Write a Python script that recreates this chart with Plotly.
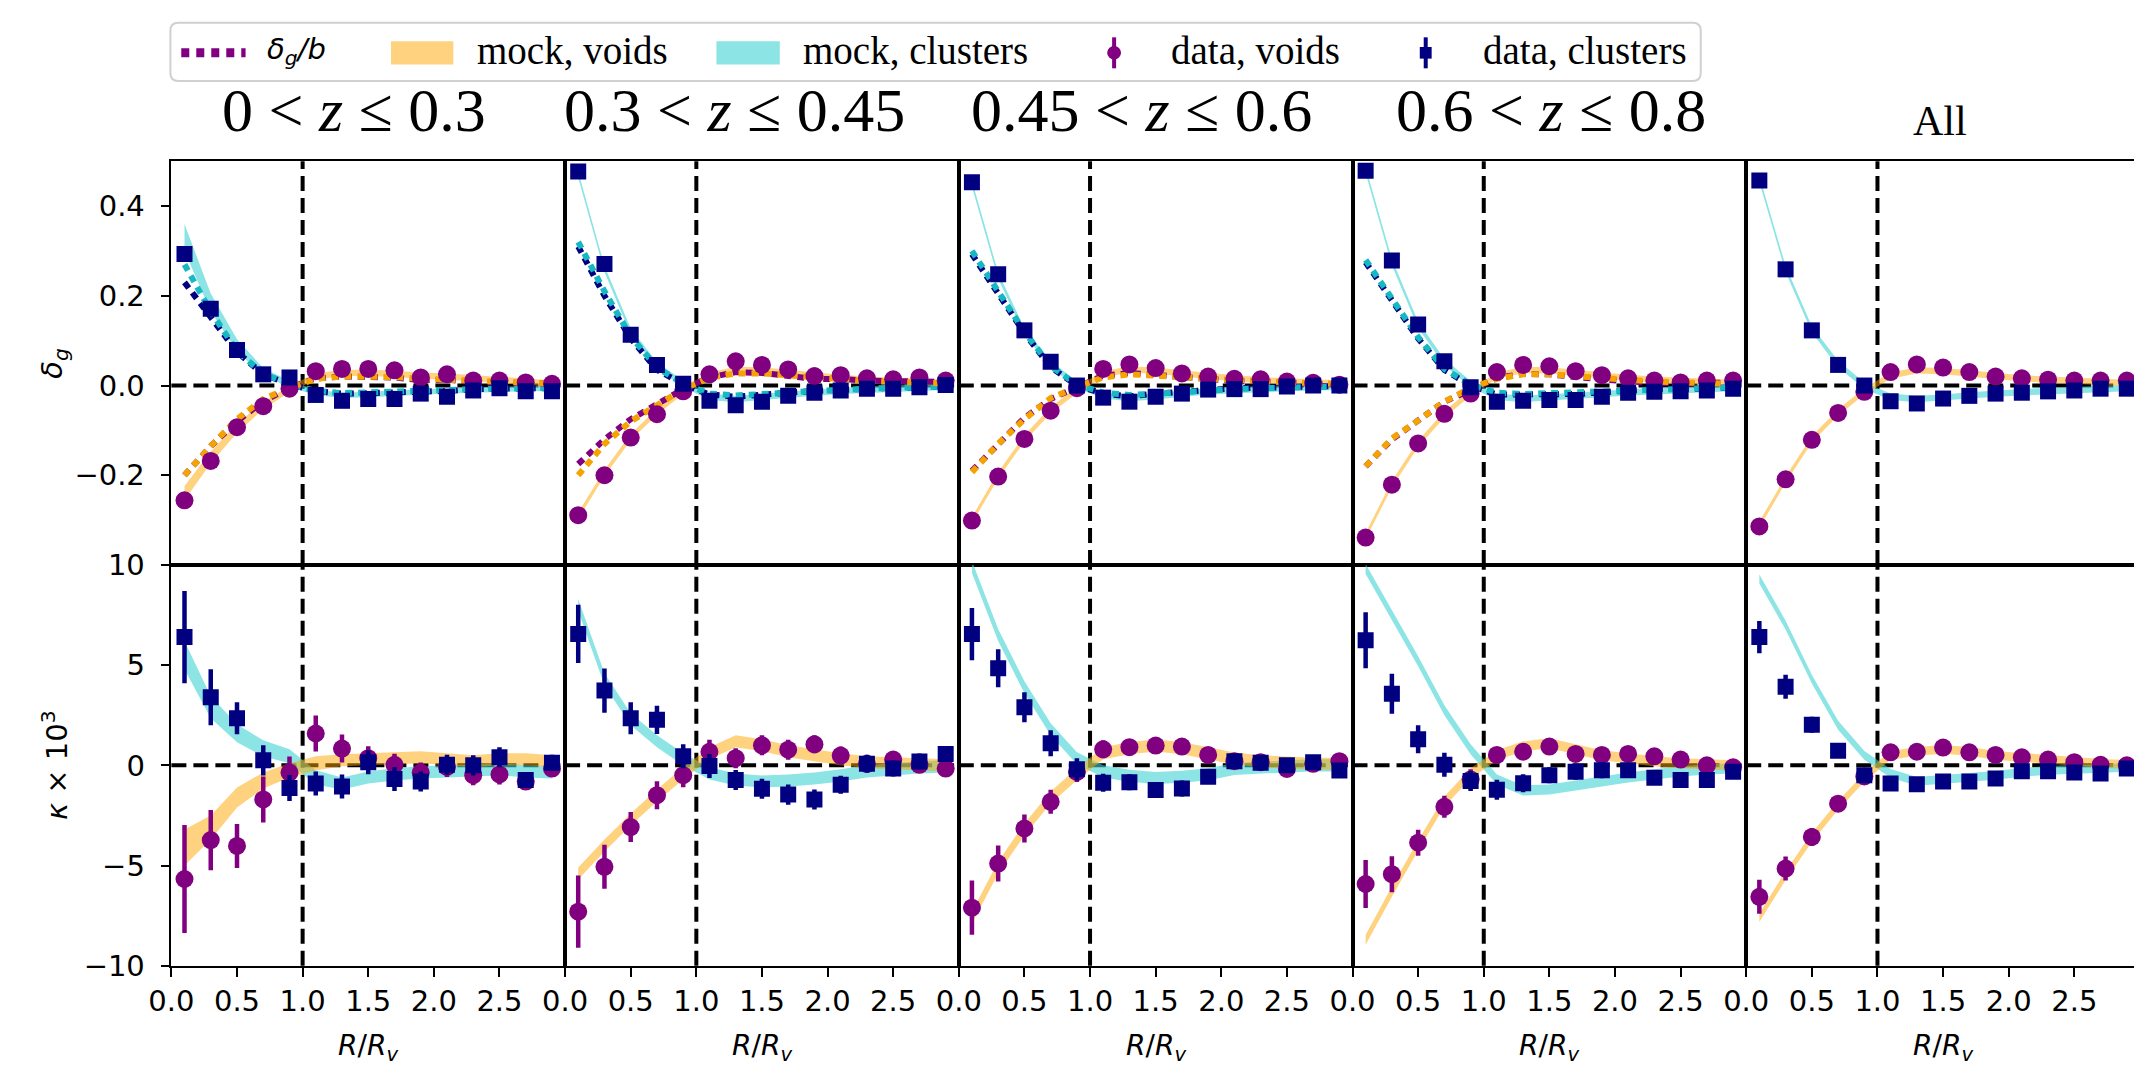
import plotly.graph_objects as go
from plotly.subplots import make_subplots

# ---------------- data ----------------
R = [0.1, 0.3, 0.5, 0.7, 0.9, 1.1, 1.3, 1.5, 1.7, 1.9, 2.1, 2.3, 2.5, 2.7, 2.9]

panel_titles = ["0 < <i>z</i> ≤ 0.3", "0.3 < <i>z</i> ≤ 0.45", "0.45 < <i>z</i> ≤ 0.6",
                "0.6 < <i>z</i> ≤ 0.8", "All"]

x_tickvals = [0.0, 0.5, 1.0, 1.5, 2.0, 2.5]
x_ticktext = ["0.0", "0.5", "1.0", "1.5", "2.0", "2.5"]
dg_tickvals = [-0.2, 0.0, 0.2, 0.4]
dg_ticktext = ["\u22120.2", "0.0", "0.2", "0.4"]
k_tickvals = [-10, -5, 0, 5, 10]
k_ticktext = ["\u221210", "\u22125", "0", "5", "10"]

# delta_g : data, clusters
dg_data_clusters = [
    [0.293, 0.171, 0.079, 0.025, 0.018, -0.021, -0.034, -0.030, -0.030, -0.018, -0.025, -0.011, -0.006, -0.013, -0.013],
    [0.477, 0.271, 0.113, 0.046, 0.004, -0.034, -0.044, -0.036, -0.023, -0.016, -0.011, -0.007, -0.007, -0.004, 0.001],
    [0.453, 0.248, 0.123, 0.053, 0.000, -0.027, -0.036, -0.025, -0.018, -0.009, -0.008, -0.008, -0.002, 0.000, 0.000],
    [0.479, 0.279, 0.136, 0.054, -0.004, -0.036, -0.034, -0.032, -0.032, -0.025, -0.016, -0.014, -0.013, -0.011, -0.007],
    [0.457, 0.259, 0.123, 0.046, 0.000, -0.035, -0.040, -0.029, -0.023, -0.018, -0.016, -0.013, -0.011, -0.007, -0.007],
]
# delta_g : data, voids
dg_data_voids = [
    [-0.256, -0.168, -0.093, -0.046, -0.007, 0.032, 0.037, 0.037, 0.034, 0.018, 0.025, 0.011, 0.011, 0.007, 0.004],
    [-0.289, -0.200, -0.116, -0.064, -0.013, 0.025, 0.054, 0.046, 0.036, 0.021, 0.023, 0.016, 0.014, 0.018, 0.011],
    [-0.301, -0.203, -0.119, -0.056, -0.006, 0.037, 0.047, 0.039, 0.027, 0.020, 0.015, 0.014, 0.009, 0.006, 0.002],
    [-0.339, -0.221, -0.129, -0.063, -0.018, 0.030, 0.046, 0.043, 0.032, 0.023, 0.016, 0.011, 0.007, 0.011, 0.011],
    [-0.314, -0.209, -0.121, -0.061, -0.014, 0.030, 0.047, 0.040, 0.030, 0.020, 0.016, 0.013, 0.011, 0.011, 0.011],
]
dg_data_err = [0.014, 0.010, 0.008, 0.006, 0.005, 0.005, 0.004, 0.004, 0.004, 0.004, 0.004, 0.004, 0.004, 0.004, 0.004]

# delta_g : mock bands (centre, half width)
dg_mock_clusters = [
    [0.330, 0.185, 0.090, 0.030, 0.003, -0.015, -0.022, -0.020, -0.018, -0.015, -0.012, -0.010, -0.008, -0.007, -0.006],
    [0.470, 0.260, 0.120, 0.045, 0.004, -0.025, -0.030, -0.026, -0.021, -0.016, -0.012, -0.009, -0.007, -0.005, -0.003],
    [0.450, 0.245, 0.120, 0.048, 0.002, -0.022, -0.028, -0.024, -0.018, -0.013, -0.010, -0.008, -0.006, -0.004, -0.003],
    [0.480, 0.275, 0.135, 0.052, 0.003, -0.025, -0.030, -0.027, -0.023, -0.019, -0.015, -0.012, -0.010, -0.008, -0.006],
    [0.460, 0.260, 0.125, 0.048, 0.000, -0.025, -0.030, -0.027, -0.022, -0.018, -0.015, -0.012, -0.010, -0.008, -0.006],
]
dg_mock_voids = [
    [-0.240, -0.160, -0.095, -0.045, -0.008, 0.020, 0.028, 0.028, 0.026, 0.022, 0.020, 0.016, 0.012, 0.008, 0.005],
    [-0.290, -0.195, -0.115, -0.058, -0.012, 0.022, 0.035, 0.034, 0.028, 0.022, 0.017, 0.013, 0.010, 0.008, 0.006],
    [-0.300, -0.200, -0.118, -0.055, -0.010, 0.025, 0.036, 0.033, 0.027, 0.021, 0.016, 0.012, 0.009, 0.007, 0.005],
    [-0.335, -0.220, -0.130, -0.064, -0.016, 0.022, 0.035, 0.034, 0.028, 0.022, 0.017, 0.013, 0.010, 0.008, 0.006],
    [-0.310, -0.210, -0.120, -0.060, -0.013, 0.022, 0.034, 0.032, 0.027, 0.021, 0.016, 0.013, 0.010, 0.008, 0.006],
]
dg_mock_clusters_hw = [
    [0.030, 0.020, 0.013, 0.009, 0.007, 0.006, 0.006, 0.006, 0.006, 0.006, 0.006, 0.006, 0.006, 0.006, 0.006],
    [0.007] * 15, [0.007] * 15, [0.007] * 15, [0.007] * 15,
]
dg_mock_voids_hw = [
    [0.016, 0.013, 0.010, 0.008, 0.007, 0.007, 0.007, 0.007, 0.007, 0.007, 0.007, 0.007, 0.007, 0.007, 0.007],
    [0.007] * 15, [0.007] * 15, [0.007] * 15, [0.007] * 15,
]

# delta_g / b  (first four panels only)
dgb_data_clusters = [
    [0.230, 0.155, 0.075, 0.025, 0.003, -0.012, -0.018, -0.017, -0.016, -0.012, -0.012, -0.008, -0.006, -0.006, -0.006],
    [0.310, 0.200, 0.105, 0.035, 0.003, -0.020, -0.025, -0.022, -0.016, -0.012, -0.009, -0.006, -0.005, -0.004, -0.002],
    [0.293, 0.205, 0.117, 0.041, 0.000, -0.018, -0.024, -0.018, -0.013, -0.008, -0.006, -0.005, -0.003, -0.002, -0.001],
    [0.275, 0.190, 0.105, 0.035, 0.000, -0.020, -0.020, -0.019, -0.019, -0.015, -0.010, -0.008, -0.008, -0.007, -0.004],
]
dgb_mock_clusters = [
    [0.270, 0.165, 0.077, 0.026, 0.003, -0.012, -0.017, -0.016, -0.014, -0.011, -0.010, -0.008, -0.006, -0.005, -0.005],
    [0.320, 0.210, 0.110, 0.040, 0.004, -0.018, -0.022, -0.020, -0.016, -0.012, -0.009, -0.007, -0.005, -0.004, -0.002],
    [0.300, 0.210, 0.120, 0.043, 0.002, -0.016, -0.021, -0.018, -0.014, -0.010, -0.008, -0.006, -0.004, -0.003, -0.002],
    [0.280, 0.195, 0.108, 0.037, 0.002, -0.016, -0.019, -0.017, -0.015, -0.012, -0.009, -0.007, -0.006, -0.005, -0.004],
]
dgb_data_voids = [
    [-0.200, -0.135, -0.080, -0.035, -0.005, 0.016, 0.020, 0.020, 0.018, 0.012, 0.013, 0.008, 0.006, 0.005, 0.004],
    [-0.175, -0.120, -0.075, -0.040, -0.008, 0.018, 0.030, 0.028, 0.022, 0.015, 0.014, 0.010, 0.009, 0.010, 0.007],
    [-0.190, -0.130, -0.072, -0.030, -0.004, 0.022, 0.028, 0.024, 0.017, 0.013, 0.010, 0.009, 0.006, 0.004, 0.002],
    [-0.180, -0.120, -0.078, -0.036, -0.010, 0.017, 0.026, 0.025, 0.019, 0.013, 0.009, 0.006, 0.004, 0.006, 0.006],
]
dgb_mock_voids = [
    [-0.200, -0.135, -0.075, -0.030, -0.005, 0.015, 0.020, 0.020, 0.019, 0.015, 0.013, 0.010, 0.008, 0.006, 0.004],
    [-0.200, -0.130, -0.080, -0.045, -0.008, 0.017, 0.027, 0.027, 0.022, 0.017, 0.013, 0.010, 0.008, 0.006, 0.005],
    [-0.193, -0.130, -0.075, -0.028, -0.003, 0.018, 0.025, 0.023, 0.019, 0.015, 0.012, 0.009, 0.007, 0.005, 0.004],
    [-0.180, -0.118, -0.078, -0.036, -0.005, 0.015, 0.025, 0.025, 0.021, 0.016, 0.012, 0.009, 0.007, 0.005, 0.004],
]

# kappa x 1e3 : data, clusters
k_data_clusters = [
    [6.40, 3.40, 2.35, 0.25, -1.13, -0.90, -1.05, 0.16, -0.68, -0.80, 0.03, 0.00, 0.40, -0.73, 0.13],
    [6.56, 3.73, 2.35, 2.27, 0.45, -0.03, -0.73, -1.17, -1.46, -1.70, -0.97, 0.08, -0.16, 0.19, 0.57],
    [6.55, 4.85, 2.90, 1.10, -0.20, -0.87, -0.84, -1.23, -1.15, -0.57, 0.21, 0.13, 0.00, 0.16, -0.26],
    [6.24, 3.57, 1.30, 0.03, -0.78, -1.22, -0.89, -0.49, -0.32, -0.24, -0.24, -0.62, -0.73, -0.73, -0.32],
    [6.40, 3.92, 2.03, 0.73, -0.49, -0.90, -0.94, -0.81, -0.81, -0.65, -0.29, -0.29, -0.36, -0.40, -0.16],
]
k_data_clusters_err = [
    [2.30, 1.40, 0.80, 0.75, 0.65, 0.60, 0.60, 0.60, 0.60, 0.50, 0.50, 0.50, 0.50, 0.40, 0.40],
    [1.45, 1.10, 0.80, 0.70, 0.60, 0.60, 0.50, 0.50, 0.50, 0.50, 0.45, 0.45, 0.40, 0.40, 0.40],
    [1.30, 0.95, 0.75, 0.65, 0.55, 0.45, 0.40, 0.40, 0.40, 0.35, 0.35, 0.35, 0.30, 0.30, 0.30],
    [1.40, 1.00, 0.70, 0.60, 0.50, 0.50, 0.45, 0.40, 0.40, 0.40, 0.35, 0.35, 0.35, 0.30, 0.30],
    [0.80, 0.60, 0.40, 0.30, 0.30, 0.25, 0.25, 0.20, 0.20, 0.20, 0.20, 0.20, 0.20, 0.20, 0.20],
]
# kappa x 1e3 : data, voids
k_data_voids = [
    [-5.67, -3.73, -4.02, -1.70, -0.36, 1.59, 0.84, 0.36, 0.03, -0.36, -0.08, -0.49, -0.45, -0.81, -0.16],
    [-7.30, -5.06, -3.08, -1.49, -0.49, 0.68, 0.36, 1.00, 0.78, 1.05, 0.49, 0.08, 0.29, 0.03, -0.16],
    [-7.10, -4.90, -3.15, -1.82, -0.33, 0.80, 0.91, 0.99, 0.94, 0.52, 0.21, 0.16, -0.18, 0.08, 0.21],
    [-5.92, -5.43, -3.86, -2.07, -0.70, 0.52, 0.68, 0.94, 0.57, 0.52, 0.57, 0.45, 0.29, 0.00, -0.10],
    [-6.56, -5.15, -3.57, -1.91, -0.55, 0.65, 0.68, 0.89, 0.65, 0.52, 0.40, 0.29, 0.16, 0.03, 0.00],
]
k_data_voids_err = [
    [2.70, 1.50, 1.10, 1.15, 0.80, 0.90, 0.70, 0.60, 0.55, 0.50, 0.50, 0.50, 0.50, 0.40, 0.40],
    [1.80, 1.10, 0.75, 0.70, 0.60, 0.60, 0.50, 0.50, 0.50, 0.45, 0.45, 0.40, 0.40, 0.40, 0.40],
    [1.35, 0.90, 0.70, 0.60, 0.50, 0.45, 0.40, 0.40, 0.40, 0.35, 0.35, 0.35, 0.30, 0.30, 0.30],
    [1.20, 0.90, 0.65, 0.55, 0.50, 0.40, 0.40, 0.35, 0.35, 0.35, 0.30, 0.30, 0.30, 0.30, 0.30],
    [0.85, 0.60, 0.45, 0.35, 0.30, 0.25, 0.25, 0.20, 0.20, 0.20, 0.20, 0.20, 0.20, 0.20, 0.20],
]
# kappa x 1e3 : mock bands (centre, half width)
k_mock_clusters = [
    [5.50, 2.90, 1.60, 0.85, 0.45, -0.60, -0.90, -0.60, -0.45, -0.35, -0.30, -0.25, -0.20, -0.30, -0.35],
    [8.00, 4.30, 2.30, 1.20, 0.30, -0.40, -0.70, -0.80, -0.75, -0.65, -0.50, -0.30, -0.20, -0.10, -0.05],
    [9.90, 6.50, 3.90, 1.80, 0.35, -0.30, -0.52, -0.63, -0.57, -0.44, -0.18, -0.10, -0.05, 0.00, 0.00],
    [9.80, 7.50, 5.20, 2.75, 0.80, -0.70, -1.25, -1.20, -1.00, -0.80, -0.60, -0.45, -0.30, -0.20, -0.15],
    [9.30, 7.00, 4.30, 2.00, 0.50, -0.40, -0.80, -0.70, -0.60, -0.50, -0.35, -0.25, -0.20, -0.15, -0.10],
]
k_mock_voids = [
    [-4.10, -3.10, -1.60, -0.75, -0.25, 0.10, 0.25, 0.30, 0.35, 0.40, 0.30, 0.20, 0.30, 0.30, 0.20],
    [-5.40, -4.00, -2.70, -1.50, -0.40, 0.60, 1.20, 1.00, 0.70, 0.50, 0.30, 0.15, 0.10, 0.05, 0.00],
    [-7.60, -5.10, -3.20, -1.60, -0.44, 0.60, 0.86, 0.99, 0.86, 0.60, 0.34, 0.20, 0.13, 0.08, 0.08],
    [-8.70, -6.30, -4.00, -1.80, -0.40, 0.50, 0.95, 1.10, 0.80, 0.50, 0.35, 0.20, 0.10, 0.05, 0.00],
    [-7.60, -5.50, -3.60, -2.00, -0.60, 0.50, 0.70, 0.80, 0.70, 0.50, 0.40, 0.30, 0.20, 0.10, 0.05],
]
k_mock_clusters_hw = [
    [0.70, 0.55, 0.45, 0.40, 0.35, 0.35, 0.30, 0.30, 0.30, 0.30, 0.30, 0.30, 0.30, 0.30, 0.30],
    [0.30] * 15, [0.30] * 15, [0.25] * 15, [0.22] * 15,
]
k_mock_voids_hw = [
    [0.90, 0.60, 0.50, 0.40, 0.35, 0.35, 0.30, 0.30, 0.30, 0.30, 0.30, 0.30, 0.30, 0.30, 0.30],
    [0.30] * 15, [0.30] * 15, [0.25] * 15, [0.22] * 15,
]

legend_labels = ["<i>δ</i><sub><i>g</i></sub><i>/b</i>", "mock, voids", "mock, clusters",
                 "data, voids", "data, clusters"]

# ---------------- style ----------------
W, H = 2134, 1067
PURPLE = "#800080"
NAVY = "#000080"
ORANGE_FILL = "rgba(255,165,0,0.50)"
TURQ_FILL = "rgba(64,210,210,0.60)"
ORANGE_LINE = "#F5A300"
TURQ_LINE = "#17B8C4"
SANS = "DejaVu Sans"
SERIF = "Liberation Serif"

PANEL_LEFT = 150
PANEL_W = 398
UNIT = PANEL_W / 3.0
TOP_PX, MID_PX, BOT_PX = 149, 566, 980
TITLE_X = [1.39, 1.29, 1.39, 1.51, 1.48]   # title centres, in each panel's R/R_v units


def fx(p):
    return p / W


def fy(p):
    return 1 - p / H


fig = make_subplots(rows=2, cols=5, horizontal_spacing=0, vertical_spacing=0)


def band(xs, centre, hw, color, row, col):
    hi = [c + h for c, h in zip(centre, hw)]
    lo = [c - h for c, h in zip(centre, hw)]
    fig.add_trace(go.Scatter(x=xs + xs[::-1], y=hi + lo[::-1], fill="toself",
                             fillcolor=color, line=dict(width=0), mode="lines",
                             hoverinfo="skip", showlegend=False), row=row, col=col)


def dotted(xs, ys, color, row, col):
    fig.add_trace(go.Scatter(x=xs, y=ys, mode="lines",
                             line=dict(color=color, width=6, dash="7px,6px"),
                             showlegend=False), row=row, col=col)


def points(xs, ys, err, color, symbol, size, row, col):
    fig.add_trace(go.Scatter(x=xs, y=ys, mode="markers",
                             marker=dict(color=color, symbol=symbol, size=size, line=dict(width=0)),
                             error_y=dict(type="data", array=err, color=color, thickness=4.5, width=0),
                             showlegend=False), row=row, col=col)


for c in range(5):
    col = c + 1
    # top row: delta_g
    band(R, dg_mock_clusters[c], dg_mock_clusters_hw[c], TURQ_FILL, 1, col)
    band(R, dg_mock_voids[c], dg_mock_voids_hw[c], ORANGE_FILL, 1, col)
    if c < 4:
        dotted(R, dgb_data_clusters[c], NAVY, 1, col)
        dotted(R, dgb_mock_clusters[c], TURQ_LINE, 1, col)
        dotted(R, dgb_data_voids[c], PURPLE, 1, col)
        dotted(R, dgb_mock_voids[c], ORANGE_LINE, 1, col)
    points(R, dg_data_voids[c], dg_data_err, PURPLE, "circle", 18, 1, col)
    points(R, dg_data_clusters[c], dg_data_err, NAVY, "square", 16, 1, col)
    # bottom row: kappa
    band(R, k_mock_clusters[c], k_mock_clusters_hw[c], TURQ_FILL, 2, col)
    band(R, k_mock_voids[c], k_mock_voids_hw[c], ORANGE_FILL, 2, col)
    points(R, k_data_voids[c], k_data_voids_err[c], PURPLE, "circle", 18, 2, col)
    points(R, k_data_clusters[c], k_data_clusters_err[c], NAVY, "square", 16, 2, col)

# ---------------- axes ----------------
tickfont = dict(family=SANS, size=29, color="black")
for r in (1, 2):
    for c in range(5):
        idx = (r - 1) * 5 + c + 1
        xa = "xaxis" if idx == 1 else f"xaxis{idx}"
        ya = "yaxis" if idx == 1 else f"yaxis{idx}"
        x0 = PANEL_LEFT + PANEL_W * c
        if c < 4:
            xdom = [fx(x0), fx(x0 + PANEL_W)]
            xr = [0, 3]
        else:
            xdom = [fx(x0), 1.0]
            xr = [0, (W - x0) / UNIT]
        ydom = [fy(MID_PX), fy(TOP_PX)] if r == 1 else [fy(BOT_PX), fy(MID_PX)]
        fig.layout[xa].update(domain=xdom, range=xr, showgrid=False, zeroline=False,
                              showline=True, linecolor="black", linewidth=1.5, mirror=True,
                              tickvals=x_tickvals, ticktext=x_ticktext,
                              ticks="outside" if r == 2 else "", ticklen=9, tickwidth=2,
                              tickcolor="black", showticklabels=(r == 2), tickfont=tickfont)
        fig.layout[ya].update(domain=ydom, showgrid=False, zeroline=False,
                              range=[-0.4, 0.5] if r == 1 else [-10, 10],
                              tickvals=dg_tickvals if r == 1 else k_tickvals,
                              ticktext=dg_ticktext if r == 1 else k_ticktext,
                              showline=True, linecolor="black", linewidth=1.5, mirror=(c < 4),
                              ticks="outside" if c == 0 else "", ticklen=9, tickwidth=2,
                              tickcolor="black", showticklabels=(c == 0), tickfont=tickfont,
                              ticklabelstandoff=10)
        xref = "x" if idx == 1 else f"x{idx}"
        yref = "y" if idx == 1 else f"y{idx}"
        dash_line = dict(color="black", width=4, dash="15px,7px")
        fig.add_shape(type="line", xref=xref, yref=f"{yref} domain", x0=1, x1=1, y0=0, y1=1,
                      line=dash_line, layer="below")
        fig.add_shape(type="line", xref=f"{xref} domain", yref=yref, x0=0, x1=1, y0=0, y1=0,
                      line=dash_line, layer="below")

annotations = []
# panel titles
for c in range(5):
    xref = "x" if c == 0 else f"x{c + 1}"
    is_all = (c == 4)
    annotations.append(dict(text=panel_titles[c], xref=xref, yref="paper", x=TITLE_X[c],
                            y=fy(107 if is_all else 96), xanchor="center", yanchor="middle",
                            showarrow=False,
                            font=dict(family=SERIF, size=42 if is_all else 62, color="black")))
    # x axis label
    annotations.append(dict(text="<i>R</i>/<i>R</i><sub><i>v</i></sub>", xref=f"x{c + 6}",
                            yref="paper", x=1.5, y=fy(1050), xanchor="center", yanchor="middle",
                            yshift=-14, showarrow=False,
                            font=dict(family=SANS, size=28, color="black")))
# y axis labels
annotations.append(dict(text="<i>δ</i><sub><i>g</i></sub>", xref="paper", yref="paper",
                        x=fx(31), y=fy((TOP_PX + MID_PX) / 2), textangle=-90, showarrow=False,
                        xanchor="center", yanchor="middle", font=dict(family=SANS, size=29, color="black")))
annotations.append(dict(text="<i>κ</i> × 10<sup>3</sup>", xref="paper", yref="paper",
                        x=fx(33), y=fy((MID_PX + BOT_PX) / 2), textangle=-90, showarrow=False,
                        xanchor="center", yanchor="middle", font=dict(family=SANS, size=29, color="black")))

# ---------------- legend (drawn as a key box) ----------------
LG_L, LG_R, LG_T, LG_B, RAD = 149, 1696, 6, 66, 8
rx, ry = RAD / W, RAD / H
xl, xr_, yt, yb = fx(LG_L), fx(LG_R), fy(LG_T), fy(LG_B)
box_path = (f"M{xl + rx},{yt} L{xr_ - rx},{yt} Q{xr_},{yt} {xr_},{yt - ry} "
            f"L{xr_},{yb + ry} Q{xr_},{yb} {xr_ - rx},{yb} L{xl + rx},{yb} "
            f"Q{xl},{yb} {xl},{yb + ry} L{xl},{yt - ry} Q{xl},{yt} {xl + rx},{yt} Z")
fig.add_shape(type="path", xref="paper", yref="paper", path=box_path,
              line=dict(color="#d0d0d0", width=2), fillcolor="rgba(255,255,255,0.8)", layer="above")
LY = 37
fig.add_shape(type="line", xref="paper", yref="paper", x0=fx(160), x1=fx(225), y0=fy(LY), y1=fy(LY),
              line=dict(color=PURPLE, width=9, dash="8px,7px"))
fig.add_shape(type="rect", xref="paper", yref="paper", x0=fx(372), x1=fx(435), y0=fy(25), y1=fy(49),
              fillcolor=ORANGE_FILL, line=dict(width=0))
fig.add_shape(type="rect", xref="paper", yref="paper", x0=fx(701), x1=fx(765), y0=fy(25), y1=fy(49),
              fillcolor=TURQ_FILL, line=dict(width=0))
fig.add_shape(type="line", xref="paper", yref="paper", x0=fx(1103), x1=fx(1103), y0=fy(21), y1=fy(53),
              line=dict(color=PURPLE, width=4))
fig.add_shape(type="circle", xref="paper", yref="paper", x0=fx(1096), x1=fx(1110), y0=fy(30), y1=fy(44),
              fillcolor=PURPLE, line=dict(width=0))
fig.add_shape(type="line", xref="paper", yref="paper", x0=fx(1418), x1=fx(1418), y0=fy(21), y1=fy(53),
              line=dict(color=NAVY, width=4))
fig.add_shape(type="rect", xref="paper", yref="paper", x0=fx(1412), x1=fx(1424), y0=fy(31), y1=fy(43),
              fillcolor=NAVY, line=dict(width=0))
legend_text_x = [245, 457, 786, 1158, 1474]
for i, lab in enumerate(legend_labels):
    annotations.append(dict(text=lab, xref="paper", yref="paper", x=fx(legend_text_x[i]), y=fy(35),
                            xanchor="left", yanchor="middle", showarrow=False,
                            font=dict(family=SANS if i == 0 else SERIF, size=29 if i == 0 else 39,
                                      color="black")))

fig.update_layout(width=W, height=H, margin=dict(l=0, r=0, t=0, b=0, pad=0),
                  paper_bgcolor="white", plot_bgcolor="white", showlegend=False,
                  annotations=annotations)

fig.write_html("out.html")
